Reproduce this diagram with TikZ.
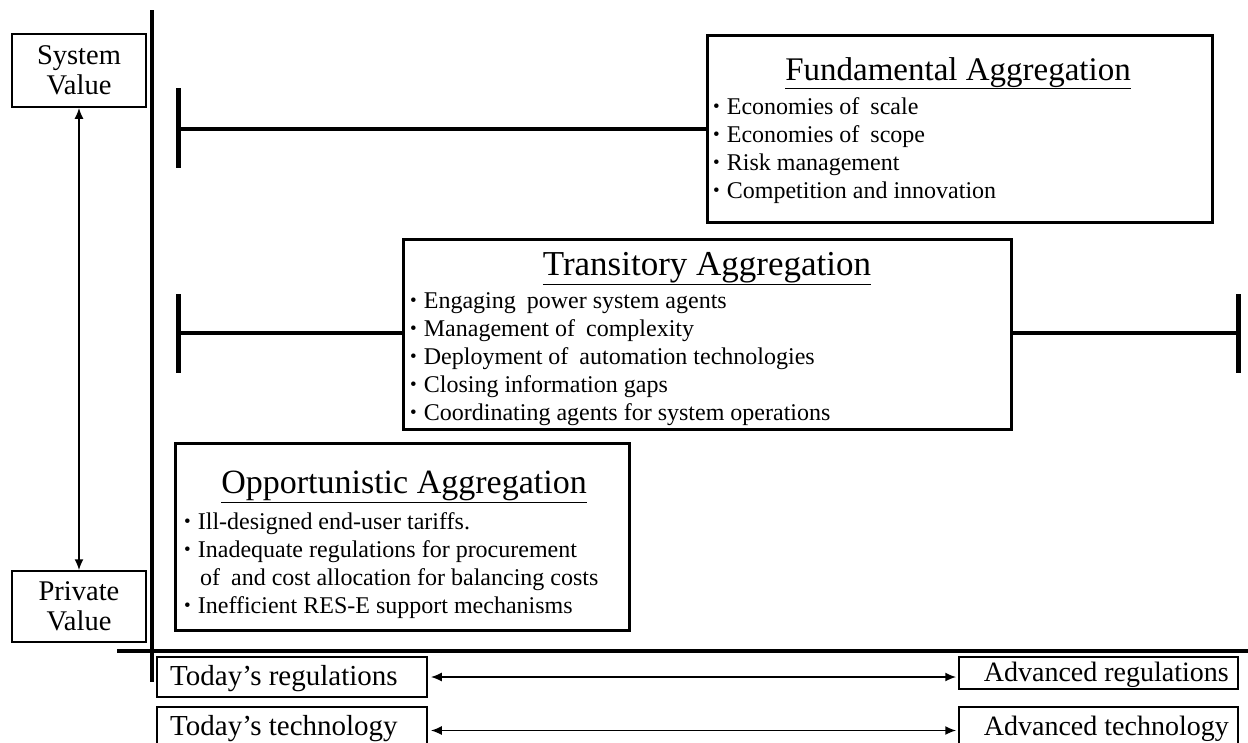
\documentclass[tikz,border=0pt]{standalone}
\usepackage{fontspec}
\setmainfont{Liberation Serif}
\usetikzlibrary{arrows.meta}
\newcommand\bl{{\fontsize{19}{19}\selectfont\raisebox{1.5pt}{•}}\hspace{7pt}}
\begin{document}
\begin{tikzpicture}[x=1pt,y=-1pt,
  axisline/.style={line width=4.5pt},
  armline/.style={line width=4pt},
  tickline/.style={line width=5pt},
  frame/.style={draw, line width=3pt, inner sep=0pt},
  lbl/.style={draw, line width=1.5pt, inner sep=0pt},
  item/.style={anchor=base west, inner sep=0pt, font=\fontsize{24}{26}\selectfont},
  ttl/.style={anchor=base, inner sep=0pt, font=\fontsize{34}{36}\selectfont},
  lbltext/.style={inner sep=0pt, font=\fontsize{29}{30}\selectfont},
  dbl/.style={{Latex[length=11pt,width=9pt]}-{Latex[length=11pt,width=9pt]}, line width=1.8pt}]
\clip (0,0) rectangle (1248,742);
\fill[white] (0,0) rectangle (1248,742);

% axes
\coordinate (vtop) at (152,10);
\coordinate (vbot) at (152,682);
\coordinate (hl) at (117,651);
\coordinate (hr) at (1250,651);
\draw[axisline] (vtop) -- (vbot);
\draw[axisline] (hl) -- (hr);

% value boxes
\node[lbl, minimum width=134pt, minimum height=73pt, align=center, font=\fontsize{28.5}{30}\selectfont] (sys) at (79,70.5) {System\\Value};
\node[lbl, minimum width=134pt, minimum height=71pt, align=center, font=\fontsize{28.5}{30}\selectfont] (priv) at (79,606.5) {Private\\Value};
\draw[dbl] (sys.south) -- (priv.north);

% bottom label boxes
\node[lbl, minimum width=270pt, minimum height=40pt] (treg) at (292,677) {};
\node[lbl, minimum width=270pt, minimum height=43pt] (ttech) at (292,728.5) {};
\node[lbl, minimum width=279pt, minimum height=32pt] (areg) at (1098.5,673) {};
\node[lbl, minimum width=279pt, minimum height=43pt] (atech) at (1098.5,728.5) {};
\node[lbltext, anchor=base west] (tregt) at (170,685) {Today’s regulations};
\node[lbltext, anchor=base west] (ttecht) at (170,735) {Today’s technology};
\node[lbltext, anchor=base east, font=\fontsize{28}{30}\selectfont] (aregt) at (1229,681) {Advanced regulations};
\node[lbltext, anchor=base east, font=\fontsize{28}{30}\selectfont] (atecht) at (1229,735) {Advanced technology};
\draw[dbl] ([xshift=3pt]treg.east) -- ([xshift=-2pt]areg.west |- treg.east);
\draw[dbl] ([xshift=3pt,yshift=-2pt]ttech.east) -- ([xshift=-2pt,yshift=-2pt]atech.west |- ttech.east);

% Fundamental
\node[frame, minimum width=505pt, minimum height=187pt] (fund) at (959.5,128.5) {};
\coordinate (ft1) at (178,88);
\coordinate (ft2) at (178,168);
\coordinate (fm) at (178,129);
\draw[tickline] (ft1) -- (ft2);
\draw[armline] (fm) -- (fm -| fund.west);
\node[ttl, font=\fontsize{33}{36}\selectfont] (fundt) at (958,80) {\underline{Fundamental Aggregation}};
\node[item] (f1) at (713,114) {\bl Economies of\hspace{5pt} scale};
\node[item] (f2) at (713,142) {\bl Economies of\hspace{5pt} scope};
\node[item] (f3) at (713,170) {\bl Risk management};
\node[item] (f4) at (713,198) {\bl Competition and innovation};

% Transitory
\node[frame, minimum width=608pt, minimum height=190pt] (trans) at (707,334) {};
\coordinate (tl1) at (178,294);
\coordinate (tl2) at (178,373);
\coordinate (tlm) at (178,333);
\coordinate (tr1) at (1238,294);
\coordinate (tr2) at (1238,373);
\coordinate (trm) at (1238,333);
\draw[tickline] (tl1) -- (tl2);
\draw[tickline] (tr1) -- (tr2);
\draw[armline] (tlm) -- (tlm -| trans.west);
\draw[armline] (trans.east |- trm) -- (trm);
\node[ttl, font=\fontsize{35}{38}\selectfont] (transt) at (707,275) {\underline{Transitory Aggregation}};
\node[item] (t1) at (410,308) {\bl Engaging\hspace{5pt} power system agents};
\node[item] (t2) at (410,336) {\bl Management of\hspace{5pt} complexity};
\node[item] (t3) at (410,364) {\bl Deployment of\hspace{5pt} automation technologies};
\node[item] (t4) at (410,392) {\bl Closing information gaps};
\node[item] (t5) at (410,420) {\bl Coordinating agents for system operations};

% Opportunistic
\node[frame, minimum width=454pt, minimum height=187pt] (opp) at (402,536.5) {};
\node[ttl] (oppt) at (404,493) {\underline{Opportunistic Aggregation}};
\node[item] (o1) at (184,529) {\bl Ill-designed end-user tariffs.};
\node[item] (o2) at (184,557) {\bl Inadequate regulations for procurement};
\node[item] (o3) at (200,585) {of\hspace{5pt} and cost allocation for balancing costs};
\node[item] (o4) at (184,613) {\bl Inefficient RES-E support mechanisms};
\end{tikzpicture}
\end{document}
